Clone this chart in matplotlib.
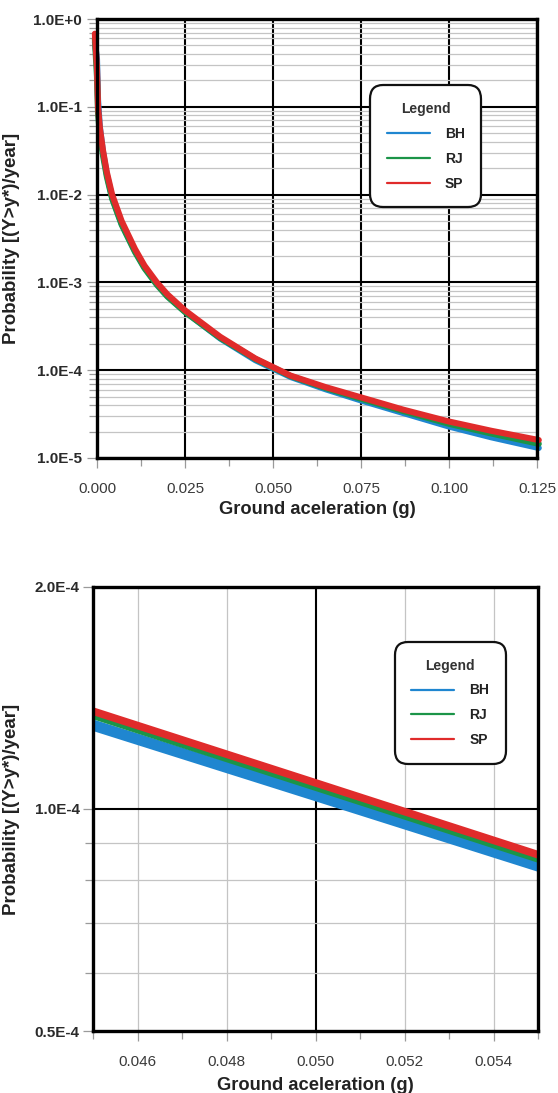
import matplotlib
matplotlib.use("Agg")
import matplotlib.pyplot as plt
from matplotlib.ticker import FixedLocator, FixedFormatter, NullFormatter

plt.rcParams["font.family"] = ["Liberation Sans", "DejaVu Sans"]

# Annual exceedance probability curves for three sites
acceleration = [-0.0006, 0.0, 0.0003, 0.0008, 0.0017, 0.0028, 0.0043, 0.007,
                0.0108, 0.0135, 0.017, 0.020, 0.025, 0.035, 0.045, 0.050,
                0.055, 0.065, 0.075, 0.087, 0.100, 0.112, 0.1255]
prob_bh = [0.55, 0.35, 0.12, 0.060, 0.031, 0.017, 9.3e-3, 4.65e-3,
           2.28e-3, 1.48e-3, 9.6e-4, 7.0e-4, 4.65e-4, 2.3e-4, 1.299e-4, 1.043e-4,
           8.37e-5, 6.05e-5, 4.52e-5, 3.25e-5, 2.28e-5, 1.72e-5, 1.3e-5]
prob_rj = [0.60, 0.22, 0.085, 0.050, 0.028, 0.016, 9.0e-3, 4.55e-3,
           2.22e-3, 1.45e-3, 9.4e-4, 6.9e-4, 4.6e-4, 2.33e-4, 1.340e-4, 1.071e-4,
           8.56e-5, 6.25e-5, 4.72e-5, 3.42e-5, 2.45e-5, 1.9e-5, 1.45e-5]
prob_sp = [0.68, 0.28, 0.10, 0.058, 0.032, 0.018, 0.010, 5.0e-3,
           2.4e-3, 1.55e-3, 1.0e-3, 7.3e-4, 4.8e-4, 2.4e-4, 1.357e-4, 1.085e-4,
           8.67e-5, 6.4e-5, 4.9e-5, 3.55e-5, 2.6e-5, 2.04e-5, 1.6e-5]

series_names = ["BH", "RJ", "SP"]
series_colors = ["#1f86d0", "#1b9448", "#e02b2b"]

# Full range panel ticks
full_xticks = [0.0, 0.025, 0.05, 0.075, 0.1, 0.125]
full_xlabels = ["0.000", "0.025", "0.050", "0.075", "0.100", "0.125"]
full_xminor = [0.0125, 0.0375, 0.0625, 0.0875, 0.1125]
full_yticks = [1e-5, 1e-4, 1e-3, 1e-2, 1e-1, 1e0]
full_ylabels = ["1.0E-5", "1.0E-4", "1.0E-3", "1.0E-2", "1.0E-1", "1.0E+0"]

# Detail panel ticks
zoom_xticks = [0.046, 0.048, 0.050, 0.052, 0.054]
zoom_xlabels = ["0.046", "0.048", "0.050", "0.052", "0.054"]
zoom_xminor = [0.045, 0.047, 0.049, 0.051, 0.053, 0.055]
zoom_yticks = [5e-5, 1e-4, 2e-4]
zoom_ylabels = ["0.5E-4", "1.0E-4", "2.0E-4"]
zoom_yminor = [6e-5, 7e-5, 8e-5, 9e-5]

GRID_GRAY = "#c4c4c4"
TICK_GRAY = "#9a9a9a"

fig = plt.figure(figsize=(5.58, 10.93), dpi=100)
ax1 = fig.add_axes([0.1738, 0.581, 0.7886, 0.4016])
ax2 = fig.add_axes([0.1667, 0.0567, 0.7975, 0.4063])


def draw_curves(ax, widths, clip):
    series = [prob_bh, prob_rj, prob_sp]
    for name, color, values, lw in zip(series_names, series_colors, series, widths):
        ax.plot(acceleration, values, color=color, lw=lw, label=name,
                solid_capstyle="round", solid_joinstyle="round",
                clip_on=clip, zorder=3)


def style_axes(ax):
    ax.set_yscale("log")
    ax.set_axisbelow(True)
    for sp in ax.spines.values():
        sp.set_linewidth(2.4)
        sp.set_color("black")
        sp.set_zorder(4)
    ax.tick_params(which="both", direction="out", color=TICK_GRAY, width=0.9)
    ax.tick_params(which="major", length=7)
    ax.tick_params(which="minor", length=6)
    ax.tick_params(axis="x", which="major", pad=10.5, labelsize=11,
                   labelcolor="#3a3a3a")


def add_legend(ax, center):
    leg = ax.legend(loc="center", bbox_to_anchor=center, title="Legend",
                    fontsize=10, handlelength=3.1, handletextpad=1.08,
                    labelspacing=0.78, borderpad=1.2, frameon=True,
                    fancybox=True, framealpha=1.0, edgecolor="#111111")
    leg.get_title().set_fontweight("bold")
    leg.get_title().set_fontsize(10)
    leg.get_title().set_color("#333333")
    for txt in leg.get_texts():
        txt.set_fontweight("bold")
        txt.set_color("#222222")
    for line in leg.get_lines():
        line.set_linewidth(1.6)
    frame = leg.get_frame()
    frame.set_linewidth(1.6)
    frame.set_boxstyle("round", pad=0, rounding_size=0.95)
    leg.set_zorder(5)
    return leg


def set_labels(ax, ylabel_x, xlabel_y):
    ax.set_xlabel("Ground aceleration (g)", fontsize=13.2, fontweight="bold",
                  color="#222222")
    ax.set_ylabel("Probability [(Y>y*)/year]", fontsize=13.5,
                  fontweight="bold", color="#222222")
    ax.xaxis.label.set_va("center")
    ax.xaxis.set_label_coords(0.5, xlabel_y)
    ax.yaxis.set_label_coords(ylabel_x, 0.5)


# ---- Full range panel ----
draw_curves(ax1, [4.4, 4.4, 4.4], False)
style_axes(ax1)
ax1.set_xlim(0, 0.125)
ax1.set_ylim(1e-5, 1e0)
ax1.xaxis.set_major_locator(FixedLocator(full_xticks))
ax1.xaxis.set_major_formatter(FixedFormatter(full_xlabels))
ax1.xaxis.set_minor_locator(FixedLocator(full_xminor))
ax1.yaxis.set_major_locator(FixedLocator(full_yticks))
ax1.yaxis.set_major_formatter(FixedFormatter(full_ylabels))
ax1.yaxis.set_minor_locator(FixedLocator(
    [m * 10.0 ** e for e in range(-5, 0) for m in range(2, 10)]))
ax1.yaxis.set_minor_formatter(NullFormatter())
ax1.grid(which="major", color="black", lw=1.5)
ax1.grid(which="minor", axis="y", color=GRID_GRAY, lw=0.9)
ax1.tick_params(axis="y", which="major", pad=4, labelsize=11,
                labelcolor="#2a2a2a")
for lab in ax1.get_yticklabels():
    lab.set_fontweight("bold")
set_labels(ax1, -0.175, -0.118)
add_legend(ax1, (0.747, 0.710))

# ---- Detail panel ----
draw_curves(ax2, [8.0, 5.5, 5.5], True)
style_axes(ax2)
ax2.set_xlim(0.045, 0.055)
ax2.set_ylim(5e-5, 2e-4)
ax2.xaxis.set_major_locator(FixedLocator(zoom_xticks))
ax2.xaxis.set_major_formatter(FixedFormatter(zoom_xlabels))
ax2.xaxis.set_minor_locator(FixedLocator(zoom_xminor))
ax2.yaxis.set_major_locator(FixedLocator(zoom_yticks))
ax2.yaxis.set_major_formatter(FixedFormatter(zoom_ylabels))
ax2.yaxis.set_minor_locator(FixedLocator(zoom_yminor))
ax2.yaxis.set_minor_formatter(NullFormatter())
ax2.grid(which="major", color=GRID_GRAY, lw=0.9)
ax2.grid(which="minor", axis="y", color=GRID_GRAY, lw=0.9)
for tick, val in zip(ax2.xaxis.get_major_ticks(), zoom_xticks):
    if abs(val - 0.050) < 1e-9:
        tick.gridline.set_color("black")
        tick.gridline.set_linewidth(1.5)
for tick, val in zip(ax2.yaxis.get_major_ticks(), zoom_yticks):
    if abs(val - 1e-4) < 1e-12:
        tick.gridline.set_color("black")
        tick.gridline.set_linewidth(1.5)
ax2.tick_params(axis="y", which="major", pad=2.5, labelsize=11,
                labelcolor="#2a2a2a")
for lab in ax2.get_yticklabels():
    lab.set_fontweight("bold")
set_labels(ax2, -0.164, -0.122)
add_legend(ax2, (0.803, 0.739))

fig.savefig("out.png", dpi=100)
